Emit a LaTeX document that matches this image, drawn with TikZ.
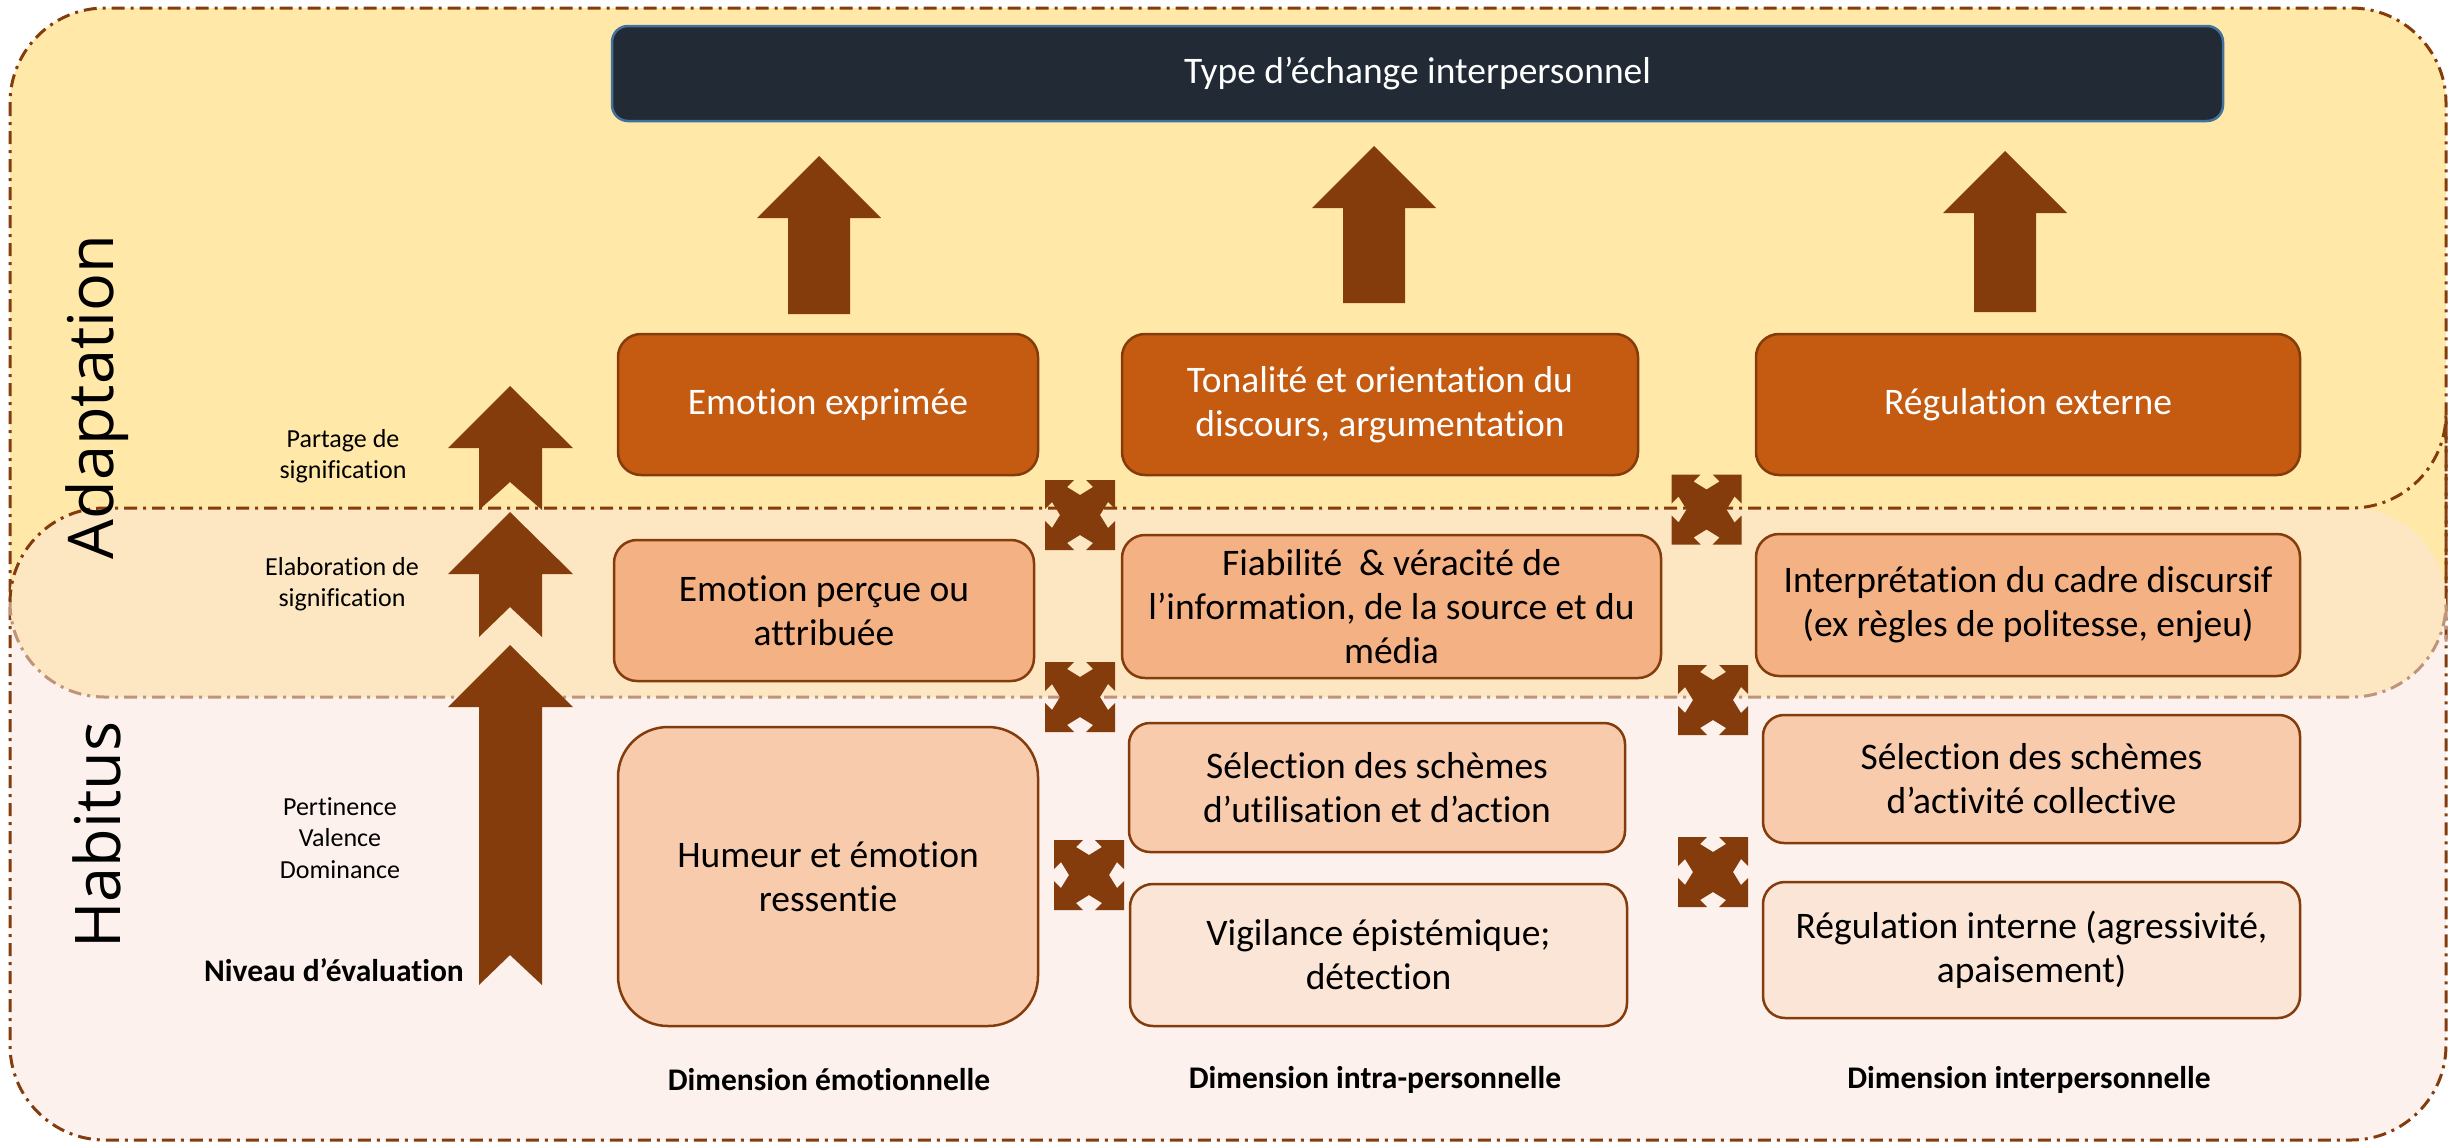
\documentclass[tikz,border=0pt]{standalone}
\usepackage{fontspec}
\setmainfont{Carlito}[Ligatures=NoCommon]
\newfontfamily\bigsans{Open Sans}
\definecolor{bgyel}{HTML}{FFE8A8}
\definecolor{bgpink}{HTML}{FCF1EC}
\definecolor{pillc}{HTML}{FDE7C2}
\definecolor{brn}{HTML}{843C0C}
\definecolor{brnlight}{HTML}{C09478}
\definecolor{orgdark}{HTML}{C55A11}
\definecolor{orgmid}{HTML}{F4B183}
\definecolor{orglight}{HTML}{F8CBAD}
\definecolor{orgpale}{HTML}{FBE5D6}
\definecolor{navy}{HTML}{222A35}
\definecolor{steel}{HTML}{41719C}
\newcommand\bxfont{\fontsize{37.5}{44}\selectfont}
\newcommand\lblfont{\fontsize{26}{31.5}\selectfont}
\newcommand\boldlbl{\fontsize{31.5}{36}\selectfont\bfseries}
\begin{document}
\begin{tikzpicture}[x=1pt,y=-1pt,
  ddot/.style={line width=3pt, dash pattern=on 13pt off 6pt on 3pt off 6pt},
  box/.style={draw=brn, line width=2.5pt, align=center, inner sep=0pt, font=\bxfont},
  obox/.style={box, fill=orgdark, text=white},
  mbox/.style={box, fill=orgmid},
  bbox/.style={box, fill=orglight},
  vbox/.style={box, fill=orgpale},
  lbl/.style={align=center, inner sep=0pt, font=\lblfont},
  blbl/.style={align=center, inner sep=0pt, font=\boldlbl},
  side/.style={rotate=90, inner sep=0pt, font=\bigsans\fontsize{63}{70}\selectfont},
  arr/.style={fill=brn},
  xarrow/.pic={\fill[brn] (-35,35) -- (-6,35) -- (-13,28) -- (0,20) -- (13,28) -- (6,35) -- (35,35)
     -- (35,6) -- (28,13) -- (20,0) -- (28,-13) -- (35,-6) -- (35,-35)
     -- (6,-35) -- (13,-28) -- (0,-20) -- (-13,-28) -- (-6,-35) -- (-35,-35)
     -- (-35,-6) -- (-28,-13) -- (-20,0) -- (-28,13) -- (-35,6) -- cycle;}
]
\useasboundingbox (0,0) rectangle (2448,1144);
% background zones
\fill[bgpink, rounded corners=95pt] (10,8) rectangle (2446,1140);
\begin{scope}
  \clip[rounded corners=95pt] (10,8) rectangle (2446,1140);
  \fill[bgyel] (0,0) rectangle (2448,598);
\end{scope}
\draw[brn, ddot, rounded corners=95pt] (10,8) rectangle (2446,1140);
% middle band
\fill[pillc, rounded corners=94.5pt] (10,508) rectangle (2446,697);
\draw[brn, ddot, rounded corners=94.5pt] (10,602.5) |- (2446,508) -| (2446,602.5);
\draw[brnlight, ddot, rounded corners=94.5pt] (10,602.5) |- (2446,697) -| (2446,602.5);

% title
\node[draw=steel, line width=2.5pt, fill=navy, text=white, rounded corners=16pt,
  minimum width=1611pt, minimum height=95pt, inner sep=0pt, font=\bxfont] (title) at (1417.5,73.5)
  {Type d’échange interpersonnel};

% up arrows to title
\fill[arr] (819,156) -- (881,218) -- (850,218) -- (850,314) -- (788,314) -- (788,218) -- (757,218) -- cycle;
\fill[arr] (1374,146) -- (1436,208) -- (1405,208) -- (1405,303) -- (1343,303) -- (1343,208) -- (1312,208) -- cycle;
\fill[arr] (2005,151) -- (2067,213) -- (2036,213) -- (2036,312) -- (1974,312) -- (1974,213) -- (1943,213) -- cycle;

% left chevron arrows
\fill[arr] (510,386) -- (573,448) -- (542,448) -- (542,510) -- (510,482) -- (479,510) -- (479,448) -- (448,448) -- cycle;
\fill[arr] (510,512) -- (573,574) -- (542,574) -- (542,637) -- (510,607) -- (479,637) -- (479,574) -- (448,574) -- cycle;
\fill[arr] (510,645) -- (573,707) -- (542,707) -- (542,985) -- (510,955) -- (479,985) -- (479,707) -- (448,707) -- cycle;

% side titles
\node[side] (adapt) at (97,397) {Adaptation};
\node[side] (habit) at (97,835) {Habitus};

% left labels
\node[lbl] (partage) at (343,456) {Partage de\\signification};
\node[lbl] (elab) at (342,584) {Elaboration de\\signification};
\node[lbl] (pert) at (340,838) {Pertinence\\Valence\\Dominance};
\node[blbl] (niveau) at (334,970) {Niveau d’évaluation};

% top row
\node[obox, rounded corners=23pt, minimum width=420pt, minimum height=141pt] (o1) at (828,404.5) {Emotion exprimée};
\node[obox, rounded corners=23pt, minimum width=516pt, minimum height=141pt] (o2) at (1380,404.5) {Tonalité et orientation du\\discours, argumentation};
\node[obox, rounded corners=23pt, minimum width=544pt, minimum height=141pt] (o3) at (2028,404.5) {Régulation externe};

% middle row
\node[mbox, rounded corners=23pt, minimum width=420pt, minimum height=141pt] (m1) at (824,610.5) {Emotion perçue ou\\attribuée};
\node[mbox, rounded corners=23pt, minimum width=539pt, minimum height=143pt] (m2) at (1391.5,606.5) {Fiabilité\ \ \& véracité de\\l’information, de la source et du\\média};
\node[mbox, rounded corners=23pt, minimum width=544pt, minimum height=142pt] (m3) at (2028,605) {Interprétation du cadre discursif\\(ex règles de politesse, enjeu)};

% bottom rows
\node[bbox, rounded corners=50pt, minimum width=420pt, minimum height=299pt] (b1) at (828,876.5) {Humeur et émotion\\ressentie};
\node[bbox, rounded corners=21pt, minimum width=496pt, minimum height=129pt] (b2) at (1377,787.5) {Sélection des schèmes\\d’utilisation et d’action};
\node[vbox, rounded corners=23pt, minimum width=497pt, minimum height=142pt] (b3) at (1378.5,955) {Vigilance épistémique;\\détection};
\node[bbox, rounded corners=21pt, minimum width=537pt, minimum height=128pt] (b4) at (2031.5,779) {Sélection des schèmes\\d’activité collective};
\node[vbox, rounded corners=22pt, minimum width=537pt, minimum height=136pt] (b5) at (2031.5,950) {Régulation interne (agressivité,\\apaisement)};

% cross arrows
\pic at (1080,515) {xarrow};
\pic at (1706.5,509.5) {xarrow};
\pic at (1080,697) {xarrow};
\pic at (1713,700) {xarrow};
\pic at (1089,875) {xarrow};
\pic at (1713,872) {xarrow};

% dimension labels
\node[blbl] (d1) at (829,1080) {Dimension émotionnelle};
\node[blbl] (d2) at (1375,1080) {Dimension intra-personnelle};
\node[blbl] (d3) at (2029,1080) {Dimension interpersonnelle};
\end{tikzpicture}
\end{document}
